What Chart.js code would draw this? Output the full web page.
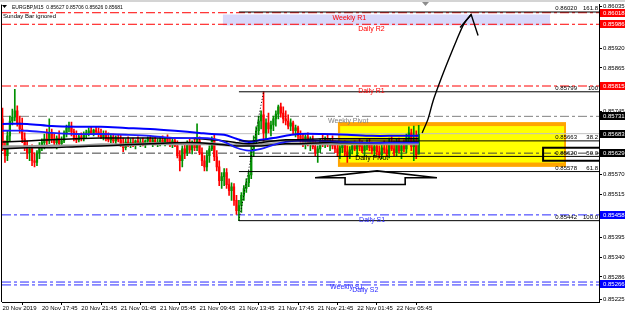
<!DOCTYPE html>
<html>
<head>
<meta charset="utf-8">
<script src="https://cdn.jsdelivr.net/npm/chart.js@4.4.0/dist/chart.umd.min.js"></script>
<style>
  html, body { margin: 0; padding: 0; background: #fff; }
  #wrap { width: 625px; height: 315px; }
</style>
</head>
<body>
<div id="wrap"><canvas id="c" width="625" height="315"></canvas></div>
<script>
// EURGBP M15, one bar every 15 min from 20 Nov 13:45.
// prices are points above 0.85000 (e.g. 681 -> 0.85681)
const BASE = 0.85;
const OPEN = [
  724,649,622,677,718,729,746,713,696,669, 647,630,641,608,603,630,647,658,669,663,
  685,669,658,671,655,663,685,699,704,688, 671,666,674,669,680,685,691,682,693,688,
  680,674,682,671,666,674,663,671,666,652, 644,660,652,658,652,663,655,660,652,663,
  669,658,666,655,660,666,658,669,660,652, 663,649,622,608,641,630,652,638,655,644,
  663,630,608,591,622,641,669,619,591,553, 564,575,542,525,536,498,470,484,512,531,
  547,569,636,663,691,718,735,685,713,696, 707,724,737,757,740,724,718,704,713,691,
  699,677,669,660,674,655,666,647,630,641, 663,658,669,652,663,649,641,630,644,652,
  633,622,638,649,641,655,647,636,649,658, 644,636,647,633,625,644,638,627,658,641,
  630,660,636,649,641,671,685,647,663,627
];
const HIGH = [
  754,663,691,732,751,806,760,732,726,685, 663,649,652,630,636,658,669,682,696,724,
  696,682,677,691,674,691,707,715,715,696, 691,682,685,688,693,699,702,696,702,699,
  696,691,691,685,682,682,677,680,680,671, 669,674,669,671,666,674,669,671,666,674,
  677,671,674,669,674,677,671,680,671,669, 671,663,636,649,658,663,669,663,671,710,
  674,644,622,636,649,674,680,636,608,575, 586,586,558,547,545,512,498,520,539,558,
  580,649,677,702,732,746,799,724,740,718, 732,746,762,768,757,746,735,724,718,707,
  704,691,682,680,685,674,677,663,649,669, 680,674,680,669,677,663,655,649,660,663,
  649,647,658,663,660,669,663,658,666,669, 660,655,658,649,652,663,655,671,674,663,
  669,671,658,666,682,702,696,704,691,706
];
const LOW = [
  636,603,608,663,707,718,704,685,658,636, 614,608,594,591,594,614,636,641,649,655,
  658,647,641,649,644,658,674,688,677,663, 658,660,663,663,671,677,680,677,682,674,
  669,666,663,660,658,658,655,660,647,633, 638,647,644,647,641,652,647,649,644,655,
  655,647,652,647,649,655,649,655,647,644, 647,616,580,591,614,622,630,627,636,636,
  625,594,580,580,603,636,608,580,539,531, 539,531,512,498,484,459,442,465,498,520,
  536,558,619,652,680,696,663,669,685,677, 691,704,724,729,713,707,696,691,682,674,
  669,658,647,641,649,636,641,622,603,630, 647,644,647,636,641,630,619,614,630,622,
  603,614,627,636,622,636,630,619,638,636, 627,622,625,616,614,630,619,616,636,622,
  622,630,614,633,630,655,636,608,614,626
];
const CLOSE = [
  649,622,677,718,729,746,713,696,669,647, 630,641,608,603,630,647,658,669,663,685,
  669,658,671,655,663,685,699,704,688,671, 666,674,669,680,685,691,682,693,688,680,
  674,682,671,666,674,663,671,666,652,644, 660,652,658,652,663,655,660,652,663,669,
  658,666,655,660,666,658,669,660,652,663, 649,622,608,641,630,652,638,655,644,663,
  630,608,591,622,641,669,619,591,553,564, 575,542,525,536,498,470,484,512,531,547,
  569,636,663,691,718,735,685,713,696,707, 724,737,757,740,724,718,704,713,691,699,
  677,669,660,674,655,666,647,630,641,663, 658,669,652,663,649,641,630,644,652,633,
  622,638,649,641,655,647,636,649,658,644, 636,647,633,625,644,638,627,658,641,630,
  660,636,649,641,671,685,647,663,625,681
];

// moving averages, sampled at these bars (same point units)
const MA_BARS   = [0,10,20,30,40,50,60,70,80,85,90,95,100,105,110,115,120,130,140,150,160,169];
const MA_BLUE_1 = [710,710,704,702,702,699,696,691,685,682,680,669,660,666,671,677,682,682,680,677,677,677];
const MA_BLUE_2 = [691,691,685,682,682,680,677,671,671,669,660,644,636,641,652,660,663,663,660,658,658,658];
const MA_BLACK_1 = [660,663,666,669,671,671,671,671,669,666,663,658,655,658,663,666,666,669,669,669,669,669];
const MA_BLACK_2 = [641,644,644,647,649,652,655,658,658,655,652,649,649,649,652,655,655,658,658,658,660,660];
const MA_GRAY   = [647,647,649,649,652,652,655,655,655,655,652,652,652,652,655,655,655,655,655,655,655,655];

// time axis
const TIME_TICKS = [0,16,32,48,64,80,96,112,128,144,160];
const TIME_LABELS = ['20 Nov 2019','20 Nov 17:45','20 Nov 21:45','21 Nov 01:45','21 Nov 05:45',
  '21 Nov 09:45','21 Nov 13:45','21 Nov 17:45','21 Nov 21:45','22 Nov 01:45','22 Nov 05:45'];

// price axis
const PRICE_TICKS = [0.86035,0.85920,0.85865,0.85745,0.85570,0.85515,0.85395,0.85340,0.85286,0.85225];
const MARK_PRICES = [0.86018,0.85986,0.85815,0.85731,0.85683,0.85629,0.85458,0.85266];
const MARK_COLORS = ['#ff0000','#ff0000','#ff0000','#000000','#000000','#000000','#0000ff','#0000ff'];

// pivot levels
const PIVOT_NAMES  = ['Weekly R1','Daily R2','Daily R1','Weekly Pivot','Daily Pivot','Daily S1','Weekly S1','Daily S2'];
const PIVOT_PRICES = [0.86018,0.85986,0.85815,0.85731,0.85629,0.85458,0.85272,0.85264];
const PIVOT_COLORS = ['#ff0000','#ff0000','#ff0000','#808080','#404040','#2a2aff','#2a2aff','#2a2aff'];
const PIVOT_LABEL_BAR = [134,144.4,144.4,132.2,143.2,144.8,133,142];

// fibonacci (from the 0.85442 low to the 0.85799 high)
const FIB_PRICES = [0.86020,0.85799,0.85663,0.85620,0.85578,0.85442];
const FIB_TAGS   = ['161.8','100','38.2','50.0','61.8','100.0'];
const FIB_FROM = 96;
const FIB_SWING_BARS = [96,106];
const FIB_SWING_PRICES = [0.85442,0.85799];

const BID = 0.85683;

// drawn objects: [bar from, bar to, price top, price bottom]
const BOX_LAVENDER = [89.5,222.3,0.86013,0.85983];
const BOX_ORANGE   = [136.2,228.8,0.85715,0.85591];
const BOX_YELLOW   = [137.1,228.0,0.85704,0.85603];
const BOX_BLACK    = [219.5,250,0.85644,0.85608];

// hand drawn arrow
const ARROW_BARS   = [170.4,172.8,174.8,177.7,180.9,184.2,187.4,190.3];
const ARROW_PRICES = [0.85685,0.85724,0.85773,0.85828,0.85884,0.85939,0.85988,0.86013];
const HEAD_BARS    = [185.8,190.3,193.1];
const HEAD_PRICES  = [0.85977,0.86013,0.85955];
// hollow up arrow under the box
const HOLLOW_BARS   = [126.9,152.1,176.4,163.5,163.5,139.1,139.1,126.9];
const HOLLOW_PRICES = [0.85561,0.85580,0.85561,0.85561,0.85542,0.85542,0.85561,0.85561];

const X_MIN = -0.2, X_MAX = 242.2;
const Y_MIN = 0.852167, Y_MAX = 0.860405;

const px = v => BASE + v / 100000;
const UP = '#009000', DN = '#ff0000';
const FONT = "'Liberation Sans', Arial, sans-serif";

const candleColors = OPEN.map((o, i) => CLOSE[i] >= o ? UP : DN);
const wickData = OPEN.map((o, i) => ({ x: i, y: [px(LOW[i]), px(HIGH[i])] }));
const bodyData = OPEN.map((o, i) => ({ x: i, y: [px(o), px(CLOSE[i]) + (CLOSE[i] === o ? 0.000004 : 0)] }));

const maLine = (vals, color, w, order) => ({
  type: 'line', data: MA_BARS.map((b, i) => ({ x: b, y: px(vals[i]) })),
  borderColor: color, borderWidth: w, pointRadius: 0, tension: 0.3, order
});
const hLine = (p, x0, color, dash, w, order) => ({
  type: 'line', data: [{ x: x0, y: p }, { x: X_MAX, y: p }],
  borderColor: color, borderWidth: w, borderDash: dash, pointRadius: 0, order
});
const pathLine = (bars, prices, color, w, order, extra) => Object.assign({
  type: 'line', data: bars.map((b, i) => ({ x: b, y: prices[i] })),
  borderColor: color, borderWidth: w, pointRadius: 0, order
}, extra || {});

const DASHDOT = [9, 3, 3, 3];

const datasets = [];
datasets.push(hLine(BID, X_MIN, '#c0c0c0', [], 1, 60));
PIVOT_PRICES.forEach((p, i) => datasets.push(hLine(p, X_MIN, PIVOT_COLORS[i], DASHDOT, 1, 55)));
datasets.push({ type: 'bar', data: wickData, backgroundColor: candleColors, barThickness: 1, grouped: false, order: 40 });
datasets.push({ type: 'bar', data: bodyData, backgroundColor: candleColors, barThickness: 1.6, grouped: false, order: 39 });
datasets.push(maLine(MA_GRAY, '#9a9a9a', 3, 35));
datasets.push(maLine(MA_BLACK_2, '#000000', 1.5, 34));
datasets.push(maLine(MA_BLACK_1, '#000000', 1.5, 33));
datasets.push(maLine(MA_BLUE_2, '#1a1aff', 1.8, 32));
datasets.push(maLine(MA_BLUE_1, '#0000ff', 2, 31));
FIB_PRICES.forEach(p => datasets.push(hLine(p, FIB_FROM, '#000000', [], 1, 20)));
datasets.push(pathLine(FIB_SWING_BARS, FIB_SWING_PRICES, '#000000', 1, 19, { borderDash: [1, 2] }));
datasets.push(pathLine(HOLLOW_BARS, HOLLOW_PRICES, '#000000', 1.6, 10));
datasets.push(pathLine(ARROW_BARS, ARROW_PRICES, '#000000', 1.4, 9, { tension: 0.3 }));
datasets.push(pathLine(HEAD_BARS, HEAD_PRICES, '#000000', 1.4, 8));

const objects = {
  id: 'objects',
  beforeDatasetsDraw(chart) {
    const { ctx, chartArea: a, scales: { x, y } } = chart;
    const rect = b => [x.getPixelForValue(b[0]), y.getPixelForValue(b[2]),
      x.getPixelForValue(b[1]) - x.getPixelForValue(b[0]), y.getPixelForValue(b[3]) - y.getPixelForValue(b[2])];
    ctx.save();
    ctx.beginPath(); ctx.rect(a.left, a.top, a.right - a.left, a.bottom - a.top); ctx.clip();
    ctx.fillStyle = '#d8d8fa'; ctx.fillRect(...rect(BOX_LAVENDER));
    ctx.fillStyle = '#ffa500'; ctx.fillRect(...rect(BOX_ORANGE));
    ctx.fillStyle = '#ffff00'; ctx.fillRect(...rect(BOX_YELLOW));
    ctx.restore();
  },
  afterDatasetsDraw(chart) {
    const { ctx, chartArea: a, scales: { x, y } } = chart;
    ctx.save();
    ctx.beginPath(); ctx.rect(a.left, a.top, a.right - a.left, a.bottom - a.top); ctx.clip();
    const r = [x.getPixelForValue(BOX_BLACK[0]), y.getPixelForValue(BOX_BLACK[2]),
      x.getPixelForValue(BOX_BLACK[1]) - x.getPixelForValue(BOX_BLACK[0]),
      y.getPixelForValue(BOX_BLACK[3]) - y.getPixelForValue(BOX_BLACK[2])];
    ctx.strokeStyle = '#000'; ctx.lineWidth = 2; ctx.strokeRect(...r);
    // pivot names
    ctx.font = '7px ' + FONT; ctx.textBaseline = 'middle'; ctx.textAlign = 'left';
    PIVOT_NAMES.forEach((n, i) => {
      ctx.fillStyle = PIVOT_COLORS[i] === '#404040' ? '#000' : PIVOT_COLORS[i];
      ctx.fillText(n, x.getPixelForValue(PIVOT_LABEL_BAR[i]), y.getPixelForValue(PIVOT_PRICES[i]) + 5);
    });
    // fibo tags
    ctx.fillStyle = '#000'; ctx.font = '6px ' + FONT; ctx.textBaseline = 'bottom'; ctx.textAlign = 'right';
    FIB_PRICES.forEach((p, i) => {
      const yy = y.getPixelForValue(p) - 0.5;
      ctx.fillText(p.toFixed(5), a.right - 22, yy);
      ctx.fillText(FIB_TAGS[i], a.right - 1, yy);
    });
    ctx.restore();
  },
  afterDraw(chart) {
    const { ctx, chartArea: a, scales: { y } } = chart;
    ctx.save();
    // window strip and frame
    ctx.fillStyle = '#d4d4d4'; ctx.fillRect(0, 0, 625, 2);
    ctx.fillStyle = '#8c8c8c';
    ctx.beginPath(); ctx.moveTo(422, 2); ctx.lineTo(429, 2); ctx.lineTo(425.5, 6); ctx.closePath(); ctx.fill();
    ctx.fillStyle = '#000'; ctx.fillRect(a.left - 1, a.top, 1, a.bottom - a.top);
    // title
    ctx.beginPath(); ctx.moveTo(2, 5); ctx.lineTo(7, 5); ctx.lineTo(4.5, 8); ctx.closePath(); ctx.fill();
    ctx.textBaseline = 'middle'; ctx.textAlign = 'left';
    ctx.font = '5px ' + FONT;
    ctx.fillText('EURGBP,M15  0.85627 0.85706 0.85626 0.85681', 12, 7.5);
    ctx.font = '6px ' + FONT;
    ctx.fillText('Sunday Bar ignored', 3, 16);
    // price marks on the axis
    MARK_PRICES.forEach((p, i) => {
      const yy = Math.round(y.getPixelForValue(p));
      ctx.fillStyle = MARK_COLORS[i];
      ctx.fillRect(a.right + 1, yy - 4, 625 - a.right - 1, 8);
      ctx.fillStyle = '#fff';
      ctx.fillText(p.toFixed(5), a.right + 4, yy + 0.5);
    });
    ctx.restore();
  }
};

new Chart(document.getElementById('c'), {
  type: 'bar',
  data: { datasets },
  options: {
    responsive: false, animation: false, events: [],
    layout: { padding: { left: 2, top: 3, right: 0, bottom: 0 } },
    plugins: { legend: { display: false }, tooltip: { enabled: false } },
    scales: {
      x: {
        type: 'linear', min: X_MIN, max: X_MAX, offset: false,
        grid: { drawOnChartArea: false, drawTicks: true, tickLength: 3, color: '#000' },
        border: { display: true, color: '#000' },
        ticks: { font: { size: 6, family: FONT }, color: '#000', align: 'start', maxRotation: 0,
                 autoSkip: false, padding: 0, callback: (v, i) => TIME_LABELS[i] },
        afterBuildTicks: s => { s.ticks = TIME_TICKS.map(v => ({ value: v })); },
        afterFit: s => { s.height = 13; }
      },
      y: {
        type: 'linear', position: 'right', min: Y_MIN, max: Y_MAX, beginAtZero: false,
        grid: { drawOnChartArea: false, drawTicks: true, tickLength: 3, color: '#000' },
        border: { display: true, color: '#000' },
        ticks: { font: { size: 6, family: FONT }, color: '#000', padding: 1, autoSkip: false,
                 callback: v => v.toFixed(5) },
        afterBuildTicks: s => { s.ticks = PRICE_TICKS.map(v => ({ value: v })); },
        afterFit: s => { s.width = 26; }
      }
    }
  },
  plugins: [objects]
});
</script>
</body>
</html>
